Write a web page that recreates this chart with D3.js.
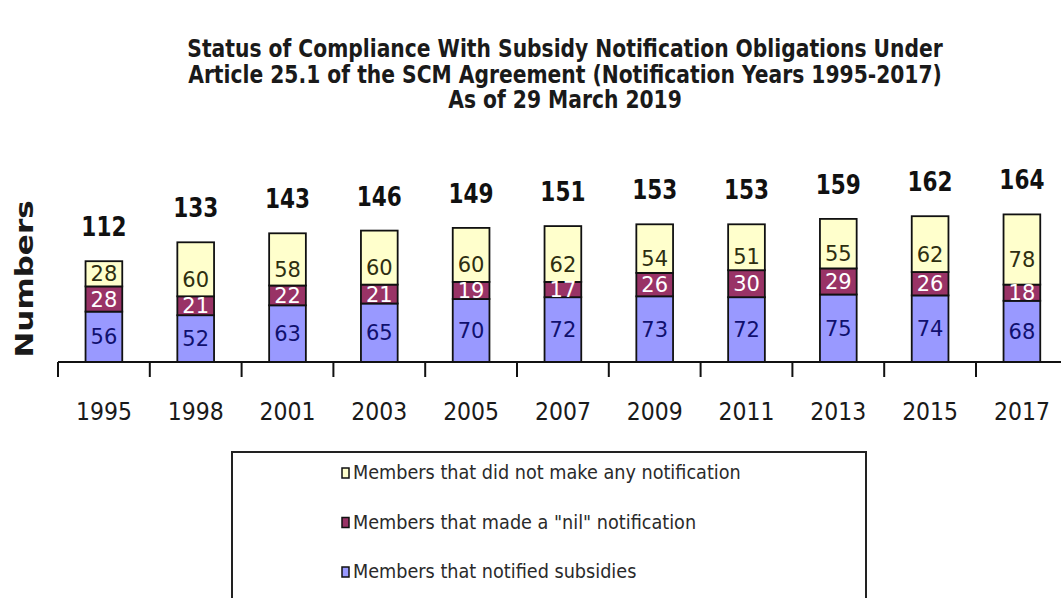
<!DOCTYPE html>
<html>
<head>
<meta charset="utf-8">
<script src="https://cdn.jsdelivr.net/npm/d3@7"></script>
<style>
  html, body { margin: 0; padding: 0; background: #fff; }
  svg { display: block; }
  text { font-family: "DejaVu Sans", Verdana, sans-serif; }
</style>
</head>
<body>
<svg id="chart" width="1061" height="598"></svg>
<script>
// Notification years shown on the category axis
const years = ["1995", "1998", "2001", "2003", "2005", "2007", "2009", "2011", "2013", "2015", "2017"];

// Members in each compliance group, per notification year
const notifiedSubsidies = [56, 52, 63, 65, 70, 72, 73, 72, 75, 74, 68];
const nilNotification   = [28, 21, 22, 21, 19, 17, 26, 30, 29, 26, 18];
const noNotification    = [28, 60, 58, 60, 60, 62, 54, 51, 55, 62, 78];

// Total membership printed above each column
const totals = [112, 133, 143, 146, 149, 151, 153, 153, 159, 162, 164];

const titleLines = [
  "Status of Compliance With Subsidy Notification Obligations Under",
  "Article 25.1 of the SCM Agreement (Notification Years 1995-2017)",
  "As of 29 March 2019"
];
const yAxisTitle = "Numbers";

// Series stacked from the bottom up
const seriesNames = ["subsidies", "nil", "none"];
const seriesValues = { subsidies: notifiedSubsidies, nil: nilNotification, none: noNotification };
const legendLabels = {
  none: "Members that did not make any notification",
  nil: "Members that made a \"nil\" notification",
  subsidies: "Members that notified subsidies"
};
const legendOrder = ["none", "nil", "subsidies"];

const fills = { subsidies: "#9999FF", nil: "#993366", none: "#FFFFCC" };
const labelInk = { subsidies: "#10106e", nil: "#ffffff", none: "#2e2e10" };

const svg = d3.select("#chart");

// Text is drawn slightly narrowed horizontally
function addText(parent, x, y, str, o) {
  return parent.append("text")
    .attr("transform", `translate(${x},${y}) scale(${o.sx || 1},1)`)
    .attr("text-anchor", o.anchor || "middle")
    .attr("font-size", o.size)
    .attr("font-weight", o.weight || "normal")
    .attr("fill", o.fill || "#111")
    .text(str);
}

// Scales
const x = d3.scaleBand().domain(years).range([58, 58 + 91.8 * years.length]).padding(0);
const barW = x.bandwidth() * 0.4;
const y = d3.scaleLinear().domain([0, 180]).range([362, 200]);

// Title
titleLines.forEach((t, i) => {
  addText(svg, 565, 57 + i * 25.5, t, { size: 24, weight: "bold", sx: 0.845, fill: "#1a1a1a" });
});

// Vertical axis title
svg.append("text")
  .attr("transform", "translate(33,279) rotate(-90) scale(1,0.8)")
  .attr("text-anchor", "middle")
  .attr("font-size", 31)
  .attr("font-weight", "bold")
  .attr("fill", "#1a1a1a")
  .text(yAxisTitle);

// Stacked data
const rows = years.map((yr, i) => {
  const r = { year: yr };
  seriesNames.forEach(s => r[s] = seriesValues[s][i]);
  return r;
});
const stacked = d3.stack().keys(seriesNames)(rows);

const bars = svg.append("g");
stacked.forEach(layer => {
  const key = layer.key;
  bars.selectAll(null)
    .data(layer)
    .join("rect")
    .attr("x", d => x(d.data.year) + (x.bandwidth() - barW) / 2)
    .attr("y", d => y(d[1]))
    .attr("width", barW)
    .attr("height", d => y(d[0]) - y(d[1]))
    .attr("fill", fills[key])
    .attr("stroke", "#111")
    .attr("stroke-width", 1.8);
});

// Values inside each segment; the top segment's value sits a little low
const segFont = 21, glyphH = 16;
stacked.forEach(layer => {
  const key = layer.key;
  layer.forEach(d => {
    const h = y(d[0]) - y(d[1]);
    const shift = key === "none" ? Math.max(0, Math.min(10, (h - glyphH) / 2 - 6)) : 0;
    const cx = x(d.data.year) + x.bandwidth() / 2;
    const cy = (y(d[0]) + y(d[1])) / 2 + shift;
    addText(svg, cx, cy + 7.5, d.data[key], { size: segFont, sx: 1.0, fill: labelInk[key] });
  });
});

// Totals above the columns
totals.forEach((t, i) => {
  const cx = x(years[i]) + x.bandwidth() / 2;
  addText(svg, cx, y(t) - 25, t, { size: 27, weight: "bold", sx: 0.8, fill: "#111" });
});

// Category axis
const axisY = 362;
svg.append("line")
  .attr("x1", 58).attr("x2", 1061)
  .attr("y1", axisY).attr("y2", axisY)
  .attr("stroke", "#111").attr("stroke-width", 2);
svg.selectAll(".tick")
  .data(years)
  .join("line")
  .attr("x1", d => x(d)).attr("x2", d => x(d))
  .attr("y1", axisY).attr("y2", axisY + 15)
  .attr("stroke", "#111").attr("stroke-width", 2);
years.forEach(yr => {
  addText(svg, x(yr) + x.bandwidth() / 2, 420, yr, { size: 25, sx: 0.88, fill: "#1a1a1a" });
});

// Legend
const lg = svg.append("g");
lg.append("rect")
  .attr("x", 232).attr("y", 452)
  .attr("width", 634).attr("height", 200)
  .attr("fill", "#fff").attr("stroke", "#222").attr("stroke-width", 2);
legendOrder.forEach((k, i) => {
  const cy = 473 + i * 49.5;
  lg.append("rect")
    .attr("x", 342).attr("y", cy - 5)
    .attr("width", 7).attr("height", 10)
    .attr("fill", fills[k]).attr("stroke", "#111").attr("stroke-width", 1.5);
  addText(lg, 353, cy + 6, legendLabels[k], { size: 19, sx: 0.93, anchor: "start", fill: "#2a2a2a" });
});
</script>
</body>
</html>
